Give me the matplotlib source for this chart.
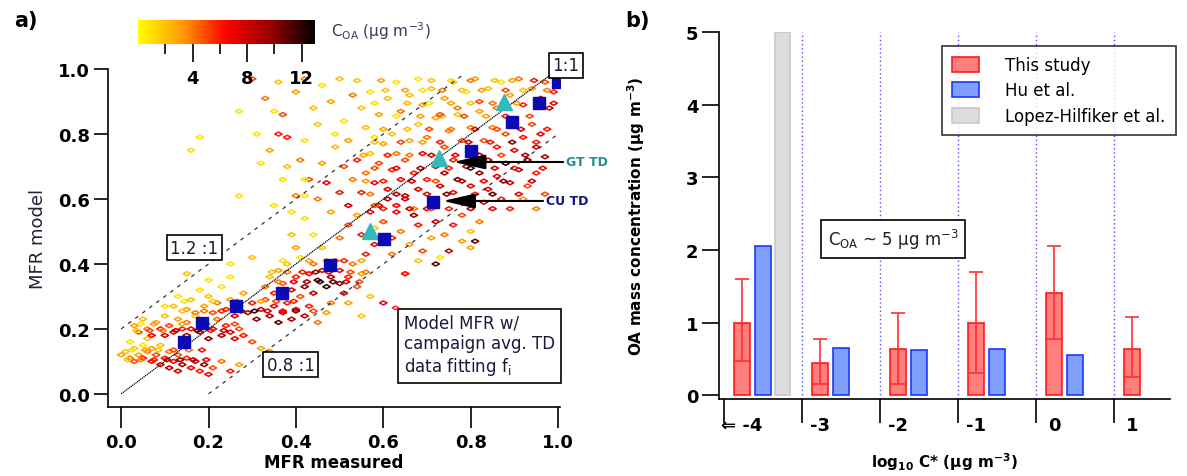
import numpy as np
import matplotlib
matplotlib.use("Agg")
import matplotlib.pyplot as plt
from matplotlib.colors import LinearSegmentedColormap
from matplotlib.path import Path
from matplotlib.patches import Patch

# ---------- panel a data: (MFR measured, MFR model, C_OA) ----------
band_low = [(0.00, 0.12, 3), (0.01, 0.13, 2), (0.02, 0.11, 4), (0.03, 0.14, 2), (0.03, 0.10, 5),
            (0.04, 0.12, 3), (0.05, 0.15, 1), (0.05, 0.11, 6), (0.06, 0.13, 4), (0.07, 0.10, 7),
            (0.07, 0.14, 3), (0.08, 0.12, 5), (0.09, 0.09, 8), (0.09, 0.15, 2), (0.10, 0.11, 6),
            (0.11, 0.13, 4), (0.11, 0.08, 9), (0.12, 0.10, 7), (0.13, 0.12, 5), (0.13, 0.07, 8),
            (0.14, 0.09, 9), (0.15, 0.11, 6), (0.16, 0.08, 7), (0.17, 0.10, 8), (0.18, 0.07, 6),
            (0.19, 0.09, 10), (0.20, 0.06, 7), (0.21, 0.08, 5), (0.23, 0.10, 4), (0.25, 0.07, 6),
            (0.27, 0.09, 3), (0.02, 0.16, 1), (0.06, 0.17, 2),
            (0.015, 0.105, 2), (0.045, 0.105, 4), (0.075, 0.105, 6), (0.105, 0.105, 8),
            (0.135, 0.105, 10), (0.165, 0.105, 9), (0.195, 0.105, 7), (0.025, 0.135, 1),
            (0.055, 0.135, 3), (0.085, 0.135, 2), (0.12, 0.135, 5), (0.155, 0.135, 4),
            (0.185, 0.135, 6)]

band_020 = [(0.03, 0.21, 3), (0.04, 0.19, 5), (0.05, 0.23, 2), (0.06, 0.20, 4), (0.07, 0.18, 7),
            (0.08, 0.22, 3), (0.09, 0.20, 6), (0.10, 0.24, 2), (0.10, 0.18, 8), (0.11, 0.21, 5),
            (0.12, 0.19, 7), (0.13, 0.23, 3), (0.14, 0.20, 6), (0.15, 0.18, 9), (0.15, 0.22, 4),
            (0.16, 0.20, 7), (0.17, 0.24, 2), (0.18, 0.19, 8), (0.19, 0.22, 5), (0.20, 0.17, 10),
            (0.21, 0.20, 7), (0.22, 0.23, 4), (0.23, 0.18, 9), (0.24, 0.21, 6), (0.25, 0.19, 8),
            (0.26, 0.17, 7), (0.27, 0.20, 5), (0.28, 0.18, 6), (0.30, 0.16, 5), (0.32, 0.14, 3),
            (0.34, 0.13, 4),
            (0.035, 0.195, 2), (0.065, 0.195, 5), (0.095, 0.195, 4), (0.125, 0.195, 9),
            (0.175, 0.195, 11), (0.205, 0.195, 6), (0.235, 0.195, 8), (0.045, 0.215, 1),
            (0.075, 0.215, 3), (0.14, 0.215, 3), (0.195, 0.215, 4), (0.26, 0.215, 5)]

band_030 = [(0.12, 0.27, 2), (0.13, 0.30, 1), (0.15, 0.26, 3), (0.16, 0.29, 2), (0.17, 0.25, 4),
            (0.18, 0.32, 1), (0.19, 0.27, 3), (0.20, 0.30, 2), (0.21, 0.25, 5), (0.22, 0.28, 4),
            (0.23, 0.33, 1), (0.24, 0.26, 6), (0.25, 0.29, 3), (0.26, 0.24, 8), (0.27, 0.27, 7),
            (0.28, 0.31, 3), (0.29, 0.25, 9), (0.30, 0.28, 6), (0.31, 0.23, 10), (0.32, 0.26, 8),
            (0.33, 0.29, 5), (0.34, 0.24, 9), (0.35, 0.27, 7), (0.36, 0.22, 11), (0.37, 0.25, 8),
            (0.38, 0.28, 6), (0.39, 0.23, 9), (0.40, 0.26, 7), (0.41, 0.30, 5), (0.42, 0.24, 8),
            (0.43, 0.27, 6), (0.45, 0.22, 4), (0.47, 0.25, 3), (0.20, 0.35, 1), (0.15, 0.37, 2),
            (0.25, 0.36, 1),
            (0.14, 0.255, 2), (0.19, 0.255, 4), (0.23, 0.255, 6), (0.275, 0.255, 9),
            (0.305, 0.255, 12), (0.335, 0.255, 8), (0.37, 0.255, 7), (0.40, 0.255, 10),
            (0.44, 0.255, 5), (0.145, 0.285, 1), (0.21, 0.285, 2), (0.265, 0.285, 4),
            (0.32, 0.285, 3), (0.355, 0.285, 5), (0.395, 0.285, 6)]

band_040 = [(0.33, 0.33, 4), (0.34, 0.36, 2), (0.35, 0.31, 6), (0.36, 0.38, 3), (0.37, 0.34, 5),
            (0.38, 0.40, 2), (0.39, 0.32, 8), (0.40, 0.36, 6), (0.41, 0.42, 1), (0.42, 0.33, 10),
            (0.43, 0.37, 7), (0.44, 0.31, 9), (0.44, 0.40, 4), (0.45, 0.35, 11), (0.46, 0.38, 8),
            (0.47, 0.33, 12), (0.48, 0.36, 9), (0.49, 0.41, 5), (0.50, 0.34, 10), (0.50, 0.38, 7),
            (0.51, 0.31, 8), (0.52, 0.36, 6), (0.53, 0.40, 4), (0.54, 0.33, 5), (0.55, 0.37, 3),
            (0.56, 0.43, 6), (0.57, 0.30, 2), (0.58, 0.46, 7), (0.48, 0.28, 4), (0.52, 0.28, 3),
            (0.40, 0.45, 3), (0.46, 0.45, 2), (0.50, 0.48, 4), (0.44, 0.49, 1),
            (0.36, 0.345, 4), (0.395, 0.345, 7), (0.425, 0.345, 9), (0.455, 0.345, 12),
            (0.485, 0.345, 11), (0.515, 0.345, 8), (0.545, 0.345, 5), (0.345, 0.375, 2),
            (0.38, 0.375, 4), (0.415, 0.375, 6), (0.445, 0.375, 10), (0.475, 0.375, 7),
            (0.525, 0.375, 5), (0.56, 0.375, 4), (0.37, 0.41, 1), (0.43, 0.41, 3),
            (0.47, 0.41, 2), (0.51, 0.41, 6), (0.55, 0.41, 3)]

band_050 = [(0.52, 0.52, 5), (0.54, 0.55, 3), (0.55, 0.49, 6), (0.57, 0.56, 7), (0.58, 0.51, 2),
            (0.59, 0.58, 8), (0.60, 0.53, 5), (0.61, 0.60, 9), (0.62, 0.48, 6), (0.63, 0.56, 7),
            (0.64, 0.50, 4), (0.65, 0.60, 8), (0.66, 0.46, 3), (0.67, 0.55, 10), (0.68, 0.52, 6),
            (0.69, 0.44, 5), (0.70, 0.57, 7), (0.71, 0.48, 3), (0.72, 0.53, 9), (0.74, 0.49, 4),
            (0.76, 0.52, 6), (0.78, 0.47, 3), (0.80, 0.50, 2), (0.82, 0.53, 4), (0.75, 0.44, 8),
            (0.72, 0.40, 11), (0.80, 0.45, 3), (0.68, 0.41, 2), (0.62, 0.43, 4), (0.73, 0.42, 1),
            (0.65, 0.37, 5), (0.60, 0.28, 7), (0.81, 0.47, 11)]

band_070 = [(0.55, 0.62, 6), (0.56, 0.68, 4), (0.57, 0.74, 2), (0.58, 0.65, 7), (0.59, 0.71, 5),
            (0.60, 0.77, 3), (0.61, 0.63, 8), (0.62, 0.69, 6), (0.62, 0.80, 2), (0.63, 0.74, 4),
            (0.64, 0.66, 7), (0.65, 0.61, 9), (0.65, 0.72, 5), (0.66, 0.78, 3), (0.67, 0.68, 6),
            (0.68, 0.63, 8), (0.68, 0.83, 2), (0.69, 0.74, 7), (0.70, 0.66, 6), (0.70, 0.79, 4),
            (0.71, 0.60, 10), (0.72, 0.70, 7), (0.72, 0.85, 3), (0.73, 0.64, 8), (0.74, 0.76, 5),
            (0.74, 0.68, 9), (0.75, 0.81, 4), (0.76, 0.62, 7), (0.76, 0.72, 6), (0.77, 0.66, 11),
            (0.77, 0.86, 2), (0.78, 0.78, 5), (0.79, 0.70, 8), (0.79, 0.60, 9), (0.80, 0.82, 4),
            (0.80, 0.64, 7), (0.81, 0.74, 6), (0.82, 0.68, 10), (0.82, 0.87, 3), (0.83, 0.78, 5),
            (0.84, 0.63, 8), (0.84, 0.72, 9), (0.85, 0.82, 4), (0.86, 0.67, 7), (0.86, 0.76, 6),
            (0.87, 0.60, 6), (0.88, 0.71, 12), (0.88, 0.80, 5), (0.89, 0.65, 8), (0.90, 0.75, 7),
            (0.90, 0.84, 4), (0.91, 0.69, 9), (0.92, 0.79, 6), (0.93, 0.72, 10), (0.93, 0.64, 5),
            (0.94, 0.83, 5), (0.95, 0.76, 8), (0.95, 0.68, 6), (0.96, 0.80, 7), (0.97, 0.73, 9),
            (0.58, 0.58, 5), (0.63, 0.58, 7), (0.67, 0.57, 4), (0.75, 0.57, 6), (0.85, 0.57, 7),
            (0.92, 0.60, 3), (0.78, 0.55, 5), (0.83, 0.59, 8), (0.45, 0.60, 4), (0.47, 0.65, 7),
            (0.48, 0.56, 3), (0.50, 0.62, 6), (0.51, 0.70, 5), (0.52, 0.58, 8), (0.53, 0.66, 4),
            (0.54, 0.72, 6), (0.43, 0.66, 5), (0.46, 0.71, 3), (0.49, 0.76, 2), (0.40, 0.61, 4),
            (0.38, 0.70, 2), (0.42, 0.78, 1), (0.35, 0.58, 1)]

fill_070 = [(0.60, 0.57, 6), (0.66, 0.57, 8), (0.71, 0.57, 5), (0.80, 0.57, 9), (0.89, 0.57, 6),
            (0.95, 0.57, 4), (0.57, 0.615, 4), (0.63, 0.615, 9), (0.70, 0.615, 7),
            (0.745, 0.615, 10), (0.81, 0.615, 6), (0.85, 0.615, 11), (0.91, 0.615, 7),
            (0.97, 0.615, 5), (0.56, 0.655, 3), (0.60, 0.655, 6), (0.665, 0.655, 8),
            (0.72, 0.655, 5), (0.78, 0.655, 9), (0.83, 0.655, 7), (0.875, 0.655, 10),
            (0.94, 0.655, 8), (0.58, 0.695, 5), (0.63, 0.695, 7), (0.685, 0.695, 9),
            (0.75, 0.695, 6), (0.80, 0.695, 12), (0.855, 0.695, 8), (0.90, 0.695, 6),
            (0.965, 0.695, 7), (0.555, 0.735, 3), (0.61, 0.735, 6), (0.66, 0.735, 4),
            (0.71, 0.735, 8), (0.765, 0.735, 7), (0.82, 0.735, 10), (0.87, 0.735, 5),
            (0.925, 0.735, 9), (0.58, 0.775, 2), (0.64, 0.775, 5), (0.69, 0.775, 3),
            (0.73, 0.775, 6), (0.795, 0.775, 8), (0.845, 0.775, 6), (0.895, 0.775, 10),
            (0.95, 0.775, 6), (0.60, 0.815, 3), (0.655, 0.815, 2), (0.705, 0.815, 5),
            (0.755, 0.815, 4), (0.81, 0.815, 7), (0.86, 0.815, 5), (0.915, 0.815, 8),
            (0.975, 0.815, 6), (0.63, 0.855, 1), (0.685, 0.855, 3), (0.735, 0.855, 2),
            (0.785, 0.855, 5), (0.835, 0.855, 3), (0.88, 0.855, 6), (0.935, 0.855, 5)]

band_top = [(0.55, 0.88, 2), (0.57, 0.93, 1), (0.59, 0.86, 3), (0.61, 0.91, 2), (0.63, 0.96, 1),
            (0.64, 0.87, 4), (0.66, 0.92, 2), (0.68, 0.97, 1), (0.69, 0.89, 3), (0.71, 0.94, 2),
            (0.73, 0.86, 5), (0.74, 0.91, 3), (0.76, 0.96, 2), (0.77, 0.88, 4), (0.79, 0.93, 1),
            (0.81, 0.97, 3), (0.82, 0.90, 5), (0.84, 0.94, 2), (0.86, 0.88, 4), (0.87, 0.96, 1),
            (0.89, 0.92, 3), (0.91, 0.97, 4), (0.92, 0.89, 6), (0.94, 0.94, 3), (0.96, 0.91, 7),
            (0.97, 0.96, 5), (0.98, 0.88, 8), (0.99, 0.93, 6), (0.40, 0.93, 3), (0.42, 0.97, 4),
            (0.44, 0.88, 2), (0.46, 0.95, 1), (0.48, 0.90, 3), (0.50, 0.97, 2), (0.51, 0.84, 1),
            (0.53, 0.92, 4), (0.45, 0.83, 2), (0.49, 0.80, 1), (0.52, 0.78, 3), (0.56, 0.82, 2),
            (0.58, 0.79, 1), (0.37, 0.86, 5), (0.36, 0.96, 2), (0.33, 0.91, 4), (0.30, 0.97, 5),
            (0.31, 0.80, 1), (0.34, 0.75, 3), (0.38, 0.79, 6), (0.41, 0.72, 4),
            (0.58, 0.895, 1), (0.655, 0.895, 2), (0.705, 0.895, 1), (0.755, 0.895, 3),
            (0.80, 0.895, 2), (0.85, 0.895, 4), (0.905, 0.895, 3), (0.96, 0.895, 5),
            (0.99, 0.895, 7), (0.605, 0.935, 2), (0.65, 0.935, 3), (0.69, 0.935, 1),
            (0.735, 0.935, 4), (0.78, 0.935, 2), (0.825, 0.935, 3), (0.88, 0.935, 5),
            (0.92, 0.935, 2), (0.975, 0.935, 4), (0.54, 0.965, 2), (0.595, 0.965, 3),
            (0.71, 0.965, 2), (0.755, 0.965, 1), (0.80, 0.965, 4), (0.855, 0.965, 2),
            (0.895, 0.965, 3), (0.945, 0.965, 6)]

sparse = [(0.27, 0.87, 1), (0.35, 0.87, 1), (0.18, 0.79, 1), (0.16, 0.75, 1), (0.36, 0.80, 6),
          (0.32, 0.71, 1), (0.27, 0.61, 1), (0.37, 0.66, 1), (0.42, 0.66, 1), (0.42, 0.61, 1),
          (0.42, 0.54, 1), (0.39, 0.56, 1), (0.39, 0.49, 2), (0.65, 0.37, 6), (0.55, 0.24, 2),
          (0.25, 0.40, 1), (0.30, 0.42, 2), (0.10, 0.27, 1)]

# campaign-average TD fits
cu_meas = [0.143, 0.185, 0.263, 0.369, 0.479, 0.602, 0.714, 0.800, 0.894, 0.957, 0.999]
cu_model = [0.161, 0.217, 0.272, 0.310, 0.397, 0.477, 0.592, 0.749, 0.836, 0.897, 0.959]
gt_meas = [0.569, 0.727, 0.876]
gt_model = [0.50, 0.725, 0.90]

# ---------- panel b data ----------
bins = ['\u21d0 -4', '-3', '-2', '-1', '0', '1']
this_study = [1.0, 0.45, 0.63, 1.0, 1.4, 0.63]
this_lo = [0.47, 0.15, 0.15, 0.30, 0.77, 0.25]
this_hi = [1.60, 0.77, 1.13, 1.70, 2.05, 1.07]
hu = [2.05, 0.65, 0.62, 0.63, 0.55]
lopez = [5.0]

bold_font = ['Liberation Sans Narrow', 'DejaVu Sans']

fig = plt.figure(figsize=(11.87, 4.77), dpi=100)

# ================= panel a =================
ax = fig.add_axes([0.091, 0.145, 0.381, 0.708])
cmap = LinearSegmentedColormap.from_list('coa', ['#ffff00', '#ff9a00', '#ff0000', '#9a0000', '#000000'])
diamond = Path([(-1, 0), (0, 0.55), (1, 0), (0, -0.55), (-1, 0)],
               [Path.MOVETO, Path.LINETO, Path.LINETO, Path.LINETO, Path.CLOSEPOLY])

pts = band_low + band_020 + band_030 + band_040 + band_050 + band_070 + fill_070 + band_top + sparse
px = [p[0] for p in pts]
py = [p[1] for p in pts]
pc = [p[2] for p in pts]
sc = ax.scatter(px, py, c=pc, cmap=cmap, vmin=0, vmax=13, marker=diamond, s=28,
                linewidths=1.1, zorder=2)
sc.set_facecolor('none')
sc.set_edgecolors(cmap(np.array(pc) / 13.0))

# 1:1 and +/-0.2 lines
line_x = np.array([0.0, 1.0])
ax.plot(line_x, line_x, color='black', lw=0.9, ls=(0, (1, 0.6)), zorder=3)
ax.plot([0.0, 0.78], [0.2, 0.98], color='#333333', lw=0.9, ls=(0, (3, 4)), zorder=3)
ax.plot([0.2, 1.0], [0.0, 0.8], color='#333333', lw=0.9, ls=(0, (3, 4)), zorder=3)

ax.plot(gt_meas, gt_model, ls='none', marker='^', ms=11, color='#33bbbb', zorder=4)
ax.plot(cu_meas, cu_model, ls='none', marker='s', ms=9, color='#0a0ab4', zorder=4)

ax.annotate('GT TD', xy=(0.76, 0.714), xytext=(1.018, 0.714), fontsize=9,
            color='#1f8f8f', fontweight='bold', family=bold_font, va='center', ha='left',
            arrowprops=dict(arrowstyle='-|>,head_length=2.2,head_width=0.5', color='black',
                            lw=1.5, shrinkA=0, shrinkB=0), annotation_clip=False, zorder=5)
ax.annotate('CU TD', xy=(0.736, 0.594), xytext=(0.972, 0.594), fontsize=9,
            color='#141480', fontweight='bold', family=bold_font, va='center', ha='left',
            arrowprops=dict(arrowstyle='-|>,head_length=2.2,head_width=0.5', color='black',
                            lw=1.5, shrinkA=0, shrinkB=0), annotation_clip=False, zorder=5)

box = dict(boxstyle='square,pad=0.2', fc='white', ec='black', lw=1.2)
ax.text(1.018, 1.012, '1:1', fontsize=12, color='#1a1a3a', ha='center', va='center', bbox=box, zorder=6)
ax.text(0.168, 0.45, '1.2 :1', fontsize=12, color='#1a1a3a', ha='center', va='center', bbox=box, zorder=6)
ax.text(0.388, 0.09, '0.8 :1', fontsize=12, color='#1a1a3a', ha='center', va='center', bbox=box, zorder=6)

ax.text(0.648, 0.15, 'Model MFR w/\ncampaign avg. TD\ndata fitting f$_\\mathregular{i}$',
        fontsize=12, color='#1a1a3a', ha='left', va='center', linespacing=1.2,
        bbox=dict(boxstyle='square,pad=0.35', fc='white', ec='black', lw=1.2), zorder=6)
ax.scatter([0.628], [0.265], marker=diamond, s=22, facecolors='none', edgecolors='#ff2020',
           linewidths=1.0, zorder=7)

ax.set_xlim(-0.03, 1.005)
ax.set_ylim(-0.04, 1.0)
ax.set_xticks([0.0, 0.2, 0.4, 0.6, 0.8, 1.0])
ax.set_yticks([0.0, 0.2, 0.4, 0.6, 0.8, 1.0])
ax.set_xticklabels(['0.0', '0.2', '0.4', '0.6', '0.8', '1.0'])
ax.set_yticklabels(['0.0', '0.2', '0.4', '0.6', '0.8', '1.0'])
for s in ['top', 'right']:
    ax.spines[s].set_visible(False)
for s in ['left', 'bottom']:
    ax.spines[s].set_linewidth(1.2)
ax.tick_params(axis='x', direction='out', length=15, width=1.2, pad=4)
ax.tick_params(axis='y', direction='out', length=10, width=1.2, pad=3)
for lab in ax.get_xticklabels() + ax.get_yticklabels():
    lab.set_fontweight('bold')
    lab.set_family(bold_font)
    lab.set_fontsize(13)
ax.set_xlabel('MFR measured', fontsize=12, fontweight='bold', family=bold_font, labelpad=1)
ax.set_ylabel('MFR model', fontsize=13, color='#222233', labelpad=8)

# colorbar inside panel a
cax = fig.add_axes([0.1165, 0.905, 0.149, 0.052])
grad = np.linspace(0, 13, 256).reshape(1, -1)
cax.imshow(grad, aspect='auto', cmap=cmap, extent=[0, 13, 0, 1])
cax.set_yticks([])
cax.set_xticks([4, 8, 12])
cax.set_xticks([2, 6, 10], minor=True)
cax.tick_params(axis='x', which='major', direction='out', length=13, width=1.2, pad=5)
cax.tick_params(axis='x', which='minor', direction='out', length=7, width=1.2)
for s in cax.spines.values():
    s.set_visible(False)
for lab in cax.get_xticklabels():
    lab.set_fontweight('bold')
    lab.set_family(bold_font)
    lab.set_fontsize(13)
fig.text(0.279, 0.935, 'C$_\\mathregular{OA}$ (\u00b5g m$^\\mathregular{-3}$)', fontsize=11,
         color='#3a3a5a', ha='left', va='center')

fig.text(0.012, 0.955, 'a)', fontsize=15, fontweight='bold', family=bold_font, va='center')

# ================= panel b =================
bx = fig.add_axes([0.606, 0.161, 0.380, 0.770])
idx = np.arange(len(bins))
err = [np.array(this_study) - np.array(this_lo), np.array(this_hi) - np.array(this_study)]
bx.bar(idx - 0.27, this_study, width=0.2, color='#ff7f7f', edgecolor='#ff1a1a', lw=1.2, zorder=3)
bx.errorbar(idx - 0.27, this_study, yerr=err, fmt='none', ecolor='#ff3030', elinewidth=1.2,
            capsize=5, capthick=1.2, zorder=4)
bx.bar(idx[:len(hu)], hu, width=0.2, color='#7f9fff', edgecolor='#1a3aff', lw=1.2, zorder=3)
bx.bar(idx[:len(lopez)] + 0.25, lopez, width=0.2, color='#dddddd', edgecolor='#c8c8c8', lw=1.2, zorder=3)

for b in np.arange(0.5, len(bins) - 0.5, 1.0):
    bx.axvline(b, color='#5050ff', ls=(0, (1, 2)), lw=1.0, zorder=1)

bx.set_xlim(-0.56, 5.22)
bx.set_ylim(-0.055, 5.0)
bx.set_xticks(np.arange(-0.5, len(bins) - 0.5, 1.0))
bx.set_xticklabels([])
bx.set_xticks(idx - 0.27, minor=True)
bx.set_xticklabels(bins, minor=True)
bx.tick_params(axis='x', which='major', direction='out', length=17, width=1.2)
bx.tick_params(axis='x', which='minor', length=0, pad=12)
bx.set_yticks([0, 1, 2, 3, 4, 5])
bx.tick_params(axis='y', direction='out', length=12, width=1.2, pad=3)
for s in ['top', 'right']:
    bx.spines[s].set_visible(False)
for s in ['left', 'bottom']:
    bx.spines[s].set_linewidth(1.2)
for lab in bx.get_xticklabels(minor=True) + bx.get_yticklabels():
    lab.set_fontweight('bold')
    lab.set_family(bold_font)
    lab.set_fontsize(13)
bx.set_xlabel('log$_\\mathregular{10}$ C* (\u00b5g m$^\\mathregular{-3}$)', fontsize=11,
              fontweight='bold', family=bold_font, labelpad=12)
bx.set_ylabel('OA mass concentration (\u00b5g m$^\\mathregular{-3}$)', fontsize=11,
              fontweight='bold', family=bold_font, labelpad=28)

bx.text(1.67, 2.15, 'C$_\\mathregular{OA}$ ~ 5 \u00b5g m$^\\mathregular{-3}$', fontsize=12,
        color='#222222', ha='center', va='center',
        bbox=dict(boxstyle='square,pad=0.4', fc='white', ec='black', lw=1.2), zorder=6)

handles = [Patch(facecolor='#ff7f7f', edgecolor='#ff1a1a', lw=1.2),
           Patch(facecolor='#7f9fff', edgecolor='#1a3aff', lw=1.2),
           Patch(facecolor='#dddddd', edgecolor='#c8c8c8', lw=1.2)]
leg = bx.legend(handles, ['This study', 'Hu et al.', 'Lopez-Hilfiker et al.'],
                loc='upper right', bbox_to_anchor=(1.03, 0.985), fontsize=12, frameon=True,
                fancybox=False, edgecolor='black', handlelength=1.6, handleheight=1.0,
                handletextpad=1.6, borderpad=0.6, labelspacing=0.45)
leg.get_frame().set_linewidth(1.2)
leg.set_zorder(7)

fig.text(0.527, 0.955, 'b)', fontsize=15, fontweight='bold', family=bold_font, va='center')

fig.savefig('out.png', dpi=100)
